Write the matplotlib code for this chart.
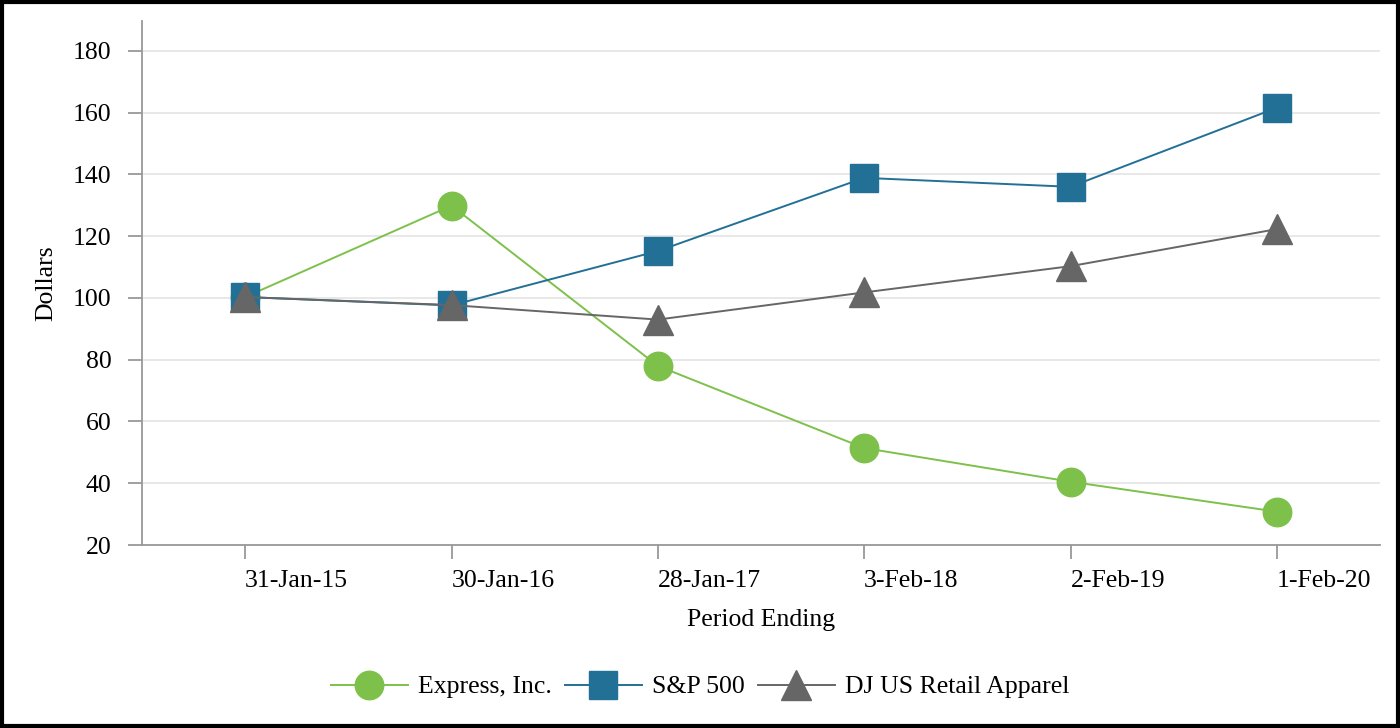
import matplotlib
matplotlib.use("Agg")
import matplotlib.pyplot as plt
from matplotlib.patches import Rectangle

periods = ["31-Jan-15", "30-Jan-16", "28-Jan-17", "3-Feb-18", "2-Feb-19", "1-Feb-20"]
express = [100.3, 129.9, 78.0, 51.4, 40.5, 30.8]
sp500 = [100.3, 97.6, 115.2, 138.9, 136.0, 161.6]
dj_apparel = [100.3, 97.7, 93.0, 101.8, 110.3, 122.3]

plt.rcParams['font.family'] = ['Liberation Serif', 'DejaVu Serif']

fig = plt.figure(figsize=(14, 7.28), dpi=100)
ax = fig.add_axes([142/1400, 1 - 545/728, (1380-142)/1400, (545-21)/728])

x = list(range(len(periods)))
ax.plot(x, express, color='#7dc14b', lw=1.4, marker='o', ms=20.5, label='Express, Inc.')
ax.plot(x, sp500, color='#237096', lw=1.4, marker='s', ms=20, label='S&P 500')
ax.plot(x, dj_apparel, color='#666666', lw=1.4, marker='^', ms=22, label='DJ US Retail Apparel')

ax.set_xlim(-0.5, 5.5)
ax.set_ylim(20, 189.7)
ax.set_yticks(range(20, 181, 20))
ax.set_xticks(x)
ax.set_xticklabels(periods, ha='left')
ax.grid(axis='y', color='#e6e6e6', lw=1.3)
ax.set_axisbelow(True)
for s in ['top', 'right']:
    ax.spines[s].set_visible(False)
for s in ['left', 'bottom']:
    ax.spines[s].set_color('#999999')
    ax.spines[s].set_linewidth(1.3)
ax.tick_params(axis='both', colors='#999999', labelcolor='black', labelsize=18.5, length=10, width=1.3)
ax.tick_params(axis='x', pad=8)
ax.tick_params(axis='y', pad=12)

ax.set_xlabel('Period Ending', fontsize=18.5, labelpad=12)
ax.set_ylabel('Dollars', fontsize=18.5, labelpad=11)

ax.legend(loc='center', bbox_to_anchor=(0.5, (728-687)/728), bbox_transform=fig.transFigure,
          ncol=3, frameon=False, fontsize=18.5, handlelength=3.0, columnspacing=0.5,
          handletextpad=0.4, borderpad=0)

fig.patches.append(Rectangle((2/1400, 2/728), 1 - 4/1400, 1 - 4/728, transform=fig.transFigure,
                             fill=False, edgecolor='black', lw=3))

fig.savefig('out.png', dpi=100)
